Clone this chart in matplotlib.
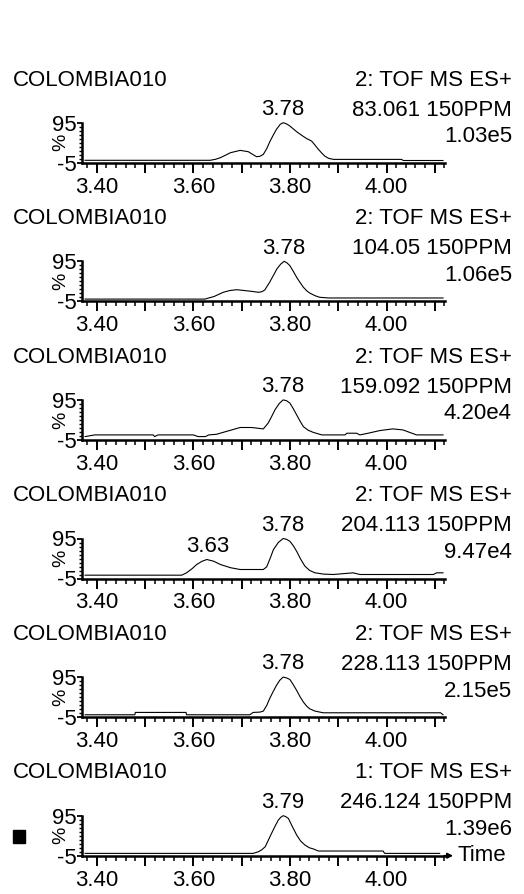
import matplotlib
matplotlib.use("Agg")
import matplotlib.pyplot as plt
from matplotlib.ticker import FixedLocator, FuncFormatter
from matplotlib.patches import Rectangle

plt.rcParams['font.family'] = ['Liberation Sans', 'DejaVu Sans']
plt.rcParams['axes.unicode_minus'] = False

# ---------------- data ----------------
sample = "COLOMBIA010"
channels = ["2: TOF MS ES+", "2: TOF MS ES+", "2: TOF MS ES+",
            "2: TOF MS ES+", "2: TOF MS ES+", "1: TOF MS ES+"]
masses = ["83.061 150PPM", "104.05 150PPM", "159.092 150PPM",
          "204.113 150PPM", "228.113 150PPM", "246.124 150PPM"]
intensities = ["1.03e5", "1.06e5", "4.20e4", "9.47e4", "2.15e5", "1.39e6"]

t1 = [3.376, 3.635, 3.646, 3.656, 3.667, 3.677, 3.697, 3.714, 3.724, 3.731, 3.738, 3.745,
      3.752, 3.759, 3.766, 3.772, 3.780, 3.786, 3.793, 3.800, 3.814, 3.825, 3.834, 3.845,
      3.852, 3.859, 3.866, 3.872, 3.880, 3.890, 4.031, 4.035, 4.117]
v1 = [1, 1, 3.5, 7.5, 14, 20, 25.8, 22.5, 15, 10, 11, 15.8,
      30, 49, 65, 78, 91, 95, 92, 86.7, 72.5, 63, 55.8, 49,
      39, 28.3, 19, 11.7, 6, 3.3, 3.3, 0.5, 0.5]

t2 = [3.376, 3.624, 3.643, 3.662, 3.676, 3.690, 3.707, 3.720, 3.735, 3.742, 3.748, 3.758,
      3.766, 3.773, 3.781, 3.788, 3.794, 3.800, 3.807, 3.814, 3.821, 3.828, 3.835, 3.842,
      3.852, 3.862, 3.880, 4.117]
v2 = [0.5, 0.5, 7, 17.5, 22, 24, 21.7, 20, 17.5, 19, 23.3, 42.5,
      60, 75.8, 88, 95, 91, 84, 70, 55, 42, 30, 21, 15,
      9, 5, 3.3, 3.3]

t3 = [3.376, 3.396, 3.517, 3.520, 3.527, 3.600, 3.610, 3.625, 3.632, 3.648, 3.668,
      3.697, 3.721, 3.745, 3.755, 3.762, 3.769, 3.778, 3.786, 3.793, 3.800, 3.807, 3.814,
      3.821, 3.828, 3.838, 3.848, 3.866, 3.914, 3.918, 3.938, 3.945, 3.962, 3.986,
      4.013, 4.034, 4.062, 4.117]
v3 = [3.3, 7.5, 7.5, 3.3, 7.5, 7.5, 3.3, 3.3, 7.5, 9, 16,
      26, 26, 22.5, 37, 53, 70, 86, 95, 93, 87, 73, 57.5,
      42, 28, 19, 14, 7.5, 7.5, 11.7, 11.7, 7.5, 11.7, 18.3,
      22.5, 20, 7.5, 7.5]

t4 = [3.376, 3.576, 3.586, 3.597, 3.607, 3.618, 3.628, 3.642, 3.656, 3.677, 3.697, 3.745,
      3.752, 3.759, 3.766, 3.776, 3.786, 3.793, 3.800, 3.807, 3.814, 3.822, 3.831, 3.841,
      3.852, 3.870, 3.890, 3.931, 3.945, 4.097, 4.104, 4.117]
v4 = [3.3, 3.3, 9.2, 19, 30, 38, 42.5, 38.3, 30, 22, 17.5, 17.5,
      24.2, 45, 67.5, 85, 95, 93, 88, 77, 63, 44, 26, 15,
      9.2, 6, 5, 9.2, 5, 5, 9.2, 9.2]

t5 = [3.376, 3.479, 3.480, 3.585, 3.586, 3.717, 3.724, 3.738, 3.745, 3.752, 3.758, 3.765,
      3.772, 3.779, 3.786, 3.793, 3.800, 3.807, 3.814, 3.821, 3.828, 3.835, 3.841, 3.852,
      3.862, 3.869, 4.112, 4.117]
v5 = [0.8, 0.8, 6.7, 6.7, 0.8, 0.8, 6.7, 7.5, 10, 24, 41, 58,
      74, 87, 95, 93, 89, 76, 61.7, 46, 32.5, 22, 15.8, 10,
      7.5, 5.8, 5.8, 0.8]

t6 = [3.376, 3.724, 3.735, 3.742, 3.749, 3.755, 3.762, 3.769, 3.776, 3.781, 3.786, 3.791,
      3.797, 3.805, 3.814, 3.822, 3.831, 3.840, 3.849, 3.859, 3.993, 3.996, 4.110]
v6 = [0.8, 0.8, 5, 10, 17.5, 33, 50.8, 68, 84, 91, 95, 93,
      88, 68, 46.7, 32, 21.7, 15, 11.7, 6.7, 6.7, 0.8, 0.8]

times = [t1, t2, t3, t4, t5, t6]
values = [v1, v2, v3, v4, v5, v6]

# peak annotations: (label, time, value)
peaks = [
    [("3.78", 3.786, 95)],
    [("3.78", 3.788, 95)],
    [("3.78", 3.786, 95)],
    [("3.63", 3.630, 42.5), ("3.78", 3.786, 95)],
    [("3.78", 3.786, 95)],
    [("3.79", 3.786, 95)],
]

x_major = [3.40, 3.50, 3.60, 3.70, 3.80, 3.90, 4.00, 4.10]
x_labeled = [3.40, 3.60, 3.80, 4.00]
x_minor = [3.38 + 0.02 * k for k in range(38) if round((3.38 + 0.02 * k) * 100) % 10 != 0]
y_major = [-5, 95]
y_minor = [5, 15, 25, 35, 45, 55, 65, 75, 85]

# ---------------- layout ----------------
W, H = 524, 894
fig = plt.figure(figsize=(W / 100, H / 100), dpi=100)
FS = 16

ax_left, ax_w, ax_h = 82, 363, 40
first_bottom, step = 162.7, 138.6


def fx(px):
    return px / W


def fy(py):
    return 1 - py / H


def fmt(x, pos):
    for v in x_labeled:
        if abs(x - v) < 1e-6:
            return f"{v:.2f}"
    return ""


for i in range(6):
    bottom = first_bottom + i * step
    ax = fig.add_axes([fx(ax_left), fy(bottom), ax_w / W, ax_h / H])
    ax.plot(times[i], values[i], color='black', lw=0.8, clip_on=False)
    ax.set_xlim(3.3696, 4.1211)
    ax.set_ylim(-5, 95)
    for s in ('top', 'right'):
        ax.spines[s].set_visible(False)
    for s in ('left', 'bottom'):
        ax.spines[s].set_linewidth(1.8)
    ax.xaxis.set_major_locator(FixedLocator(x_major))
    ax.xaxis.set_minor_locator(FixedLocator(x_minor))
    ax.xaxis.set_major_formatter(FuncFormatter(fmt))
    ax.yaxis.set_major_locator(FixedLocator(y_major))
    ax.yaxis.set_minor_locator(FixedLocator(y_minor))
    ax.tick_params(axis='x', which='major', length=7, width=1.4, pad=3, labelsize=FS)
    ax.tick_params(axis='x', which='minor', length=3.5, width=1.1)
    ax.tick_params(axis='y', which='major', length=3.5, width=1.3, pad=0.5, labelsize=FS)
    ax.tick_params(axis='y', which='minor', length=2.2, width=1.0)
    ax.set_ylabel("%", fontsize=14, labelpad=0)
    ax.yaxis.set_label_coords(-0.036, 0.5)

    for lab, pt, pv in peaks[i]:
        ax.annotate(lab, xy=(pt, pv), xytext=(0, 9.5), textcoords='offset points',
                    ha='center', va='center', fontsize=FS)

    fig.text(fx(13), fy(bottom - 82.7), sample, ha='left', va='center', fontsize=FS)
    fig.text(fx(512), fy(bottom - 82.7), channels[i], ha='right', va='center', fontsize=FS)
    fig.text(fx(512), fy(bottom - 52.7), masses[i], ha='right', va='center', fontsize=FS)
    fig.text(fx(512), fy(bottom - 26), intensities[i], ha='right', va='center', fontsize=FS)

    if i == 5:
        ax.annotate("", xy=(1.03, 0), xytext=(0.99, 0), xycoords='axes fraction',
                    arrowprops=dict(arrowstyle='-|>', color='black', lw=1.2,
                                    mutation_scale=8))
        fig.text(fx(457), fy(bottom), "Time", ha='left', va='center', fontsize=FS)
        fig.patches.append(Rectangle((fx(12.5), fy(842.5)), 12.5 / W, 12.5 / H,
                                     transform=fig.transFigure, color='black'))

fig.savefig("out.png", dpi=100)
